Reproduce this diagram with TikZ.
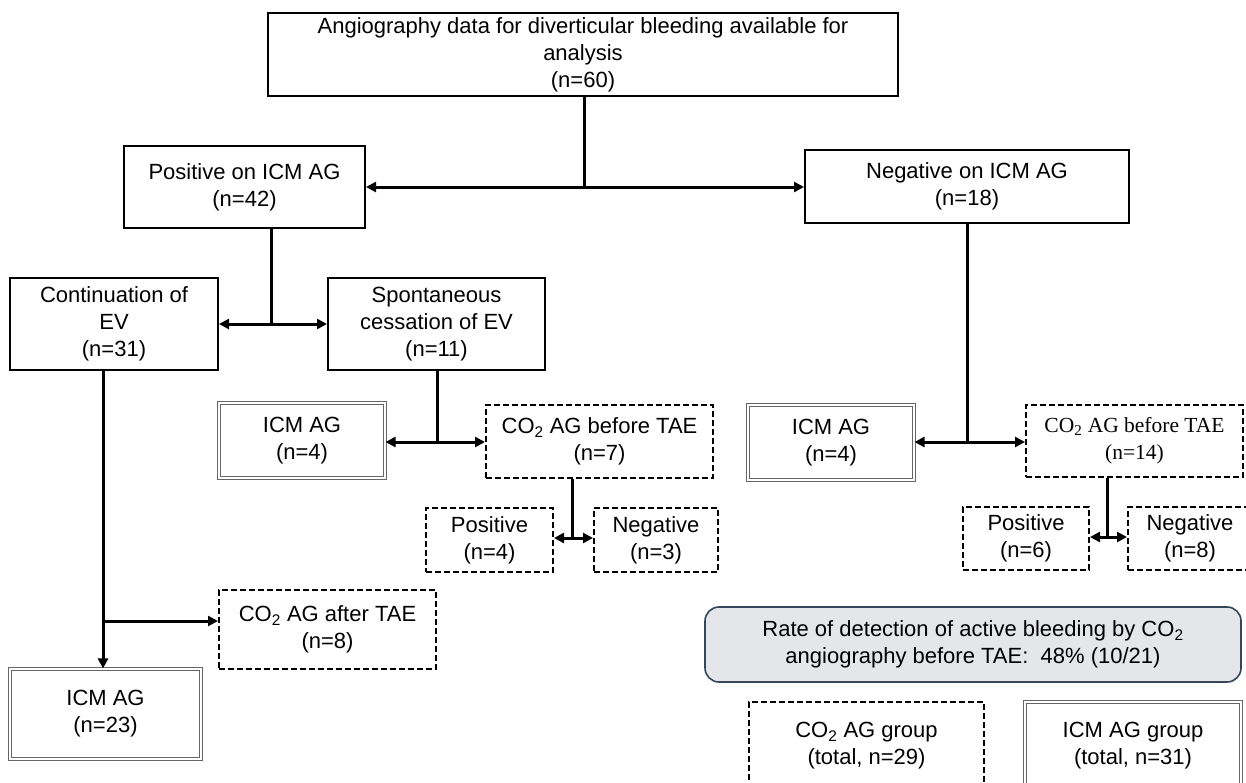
\documentclass[tikz,border=0pt]{standalone}
\usepackage{fontspec}
\setmainfont{Liberation Sans}
\newfontfamily\serifx{Liberation Serif}
\usetikzlibrary{arrows.meta}
\definecolor{ratefill}{HTML}{E4E6EA}
\definecolor{rateline}{HTML}{34475A}
\tikzset{
  base/.style={rectangle, inner sep=0pt, align=center, font=\fontsize{22}{27}\selectfont},
  solidbox/.style={base, draw, line width=2pt},
  dashbox/.style={base, draw, line width=2pt, dash pattern=on 6pt off 3pt},
  dblbox/.style={base, draw=black!60, line width=1.1pt, double=white, double distance=1.6pt},
  ratebox/.style={base, draw=rateline, fill=ratefill, line width=1.6pt, rounded corners=14pt},
  conn/.style={line width=3pt, >={Triangle[length=10pt,width=10pt]}},
  sz/.style 2 args={minimum width=#1pt, minimum height=#2pt}
}
\begin{document}
\begin{tikzpicture}[x=1pt,y=-1pt]
\useasboundingbox (0,0) rectangle (1246,782);
\clip (0,0) rectangle (1246,782);
\fill[white] (0,0) rectangle (1246,782);
% nodes
\node[solidbox, sz={630}{83}] (top) at (583,54.5) {Angiography data for diverticular bleeding available for\\analysis\\(n=60)};
\node[solidbox, sz={241}{82}] (pos) at (244.5,187) {Positive on ICM AG\\(n=42)};
\node[solidbox, sz={324}{73}] (neg) at (967,186.5) {Negative on ICM AG\\(n=18)};
\node[solidbox, sz={208}{92}] (cont) at (114,324) {Continuation of\\EV\\(n=31)};
\node[solidbox, sz={217}{92}] (spon) at (436.5,324) {Spontaneous\\cessation of EV\\(n=11)};
\node[dblbox, sz={166}{75}] (icmA) at (302,440.5) {ICM AG\\(n=4)};
\node[dashbox, sz={227}{73}] (co2A) at (599.5,441.5) {CO\textsubscript{2} AG before TAE\\(n=7)};
\node[dashbox, sz={127}{64}] (posA) at (489.5,540) {Positive\\(n=4)};
\node[dashbox, sz={124}{64}] (negA) at (656,540) {Negative\\(n=3)};
\node[dashbox, sz={217}{79}] (co2C) at (327.5,629.5) {CO\textsubscript{2} AG after TAE\\(n=8)};
\node[dblbox, sz={191}{90}] (icmC) at (105.5,714) {ICM AG\\(n=23)};
\node[dblbox, sz={166}{75}] (icmB) at (831,442.5) {ICM AG\\(n=4)};
\node[dashbox, sz={217}{72}, font=\serifx\fontsize{21.5}{27}\selectfont] (co2B) at (1134.5,441) {CO\textsubscript{2} AG before TAE\\(n=14)};
\node[dashbox, sz={126}{63}] (posB) at (1026,538.5) {Positive\\(n=6)};
\node[dashbox, sz={124}{63}] (negB) at (1190,538.5) {Negative\\(n=8)};
\node[ratebox, sz={536}{75}] (rate) at (973,644.5) {Rate of detection of active bleeding by CO\textsubscript{2}\\angiography before TAE:\ \ 48\% (10/21)};
\node[dashbox, sz={235}{88}] (grpA) at (866.5,746) {CO\textsubscript{2} AG group\\(total, n=29)};
\node[dblbox, sz={216}{88}] (grpB) at (1133,746) {ICM AG group\\(total, n=31)};
% junctions
\coordinate (j1) at (584,187);
\coordinate (j2) at (271,324);
\coordinate (j3) at (437,442);
\coordinate (j4) at (572,538);
\coordinate (j5) at (967,442);
\coordinate (j6) at (1107,537);
\coordinate (j7) at (103,621);
% connectors
\draw[conn] (top.south -| j1) -- (j1);
\draw[conn,<->] (pos.east |- j1) -- (neg.west |- j1);
\draw[conn] (pos.south -| j2) -- (j2);
\draw[conn,<->] (cont.east |- j2) -- (spon.west |- j2);
\draw[conn] (spon.south -| j3) -- (j3);
\draw[conn,<->] (icmA.east |- j3) -- (co2A.west |- j3);
\draw[conn] (co2A.south -| j4) -- (j4);
\draw[conn,<->] (posA.east |- j4) -- (negA.west |- j4);
\draw[conn] (neg.south -| j5) -- (j5);
\draw[conn,<->] (icmB.east |- j5) -- (co2B.west |- j5);
\draw[conn] (co2B.south -| j6) -- (j6);
\draw[conn,<->] (posB.east |- j6) -- (negB.west |- j6);
\draw[conn,->] (cont.south -| j7) -- (icmC.north -| j7);
\draw[conn,->] (j7) -- (co2C.west |- j7);
\end{tikzpicture}
\end{document}
